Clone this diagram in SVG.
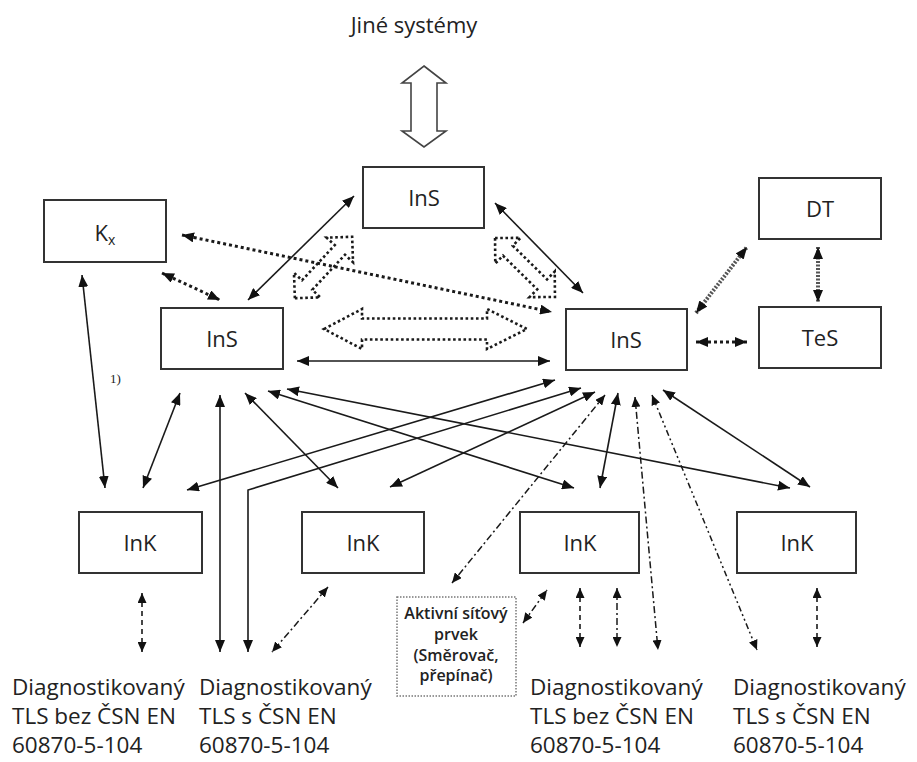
<svg xmlns="http://www.w3.org/2000/svg" width="917" height="762" viewBox="0 0 917 762">
  <defs>
    <marker id="ah" viewBox="0 0 12 10" refX="12" refY="5" markerWidth="12" markerHeight="10" markerUnits="userSpaceOnUse" orient="auto-start-reverse">
      <path d="M0,0 L12,5 L0,10 z" fill="#111"/>
    </marker>
    <marker id="ahs" viewBox="0 0 10 9" refX="10" refY="4.5" markerWidth="10" markerHeight="9" markerUnits="userSpaceOnUse" orient="auto-start-reverse">
      <path d="M0,0 L10,4.5 L0,9 z" fill="#111"/>
    </marker>
  </defs>
  <style>
    .box{fill:#fff;stroke:#333;stroke-width:2}
    .lbl{font-family:"Open Sans","Liberation Sans",sans-serif;font-size:22px;fill:#222;text-anchor:middle}
    .txt{font-family:"Open Sans","Liberation Sans",sans-serif;font-size:22.5px;fill:#222}
    .small{font-family:"Open Sans","Liberation Sans",sans-serif;font-size:16px;font-weight:600;fill:#222;text-anchor:middle}
    .ln{fill:none;stroke:#1a1a1a;stroke-width:1.6;marker-start:url(#ah);marker-end:url(#ah)}
    .dot{fill:none;stroke:#1a1a1a;stroke-width:3;stroke-dasharray:3 3;marker-start:url(#ah);marker-end:url(#ah)}
    .hatch{fill:none;stroke:#555;stroke-width:4;stroke-dasharray:2 1.5;marker-start:url(#ah);marker-end:url(#ah)}
    .dash{fill:none;stroke:#1a1a1a;stroke-width:1.6;stroke-dasharray:5 4;marker-start:url(#ahs);marker-end:url(#ahs)}
    .dd{fill:none;stroke:#1a1a1a;stroke-width:1.5;stroke-dasharray:7 3 2 3;marker-start:url(#ahs);marker-end:url(#ahs)}
    .ddd{fill:none;stroke:#1a1a1a;stroke-width:1.5;stroke-dasharray:6 3 2 3 2 3;marker-start:url(#ahs);marker-end:url(#ahs)}
    .block{fill:#fff;stroke:#1a1a1a;stroke-width:2.6;stroke-dasharray:2.6 2.6}
    .hollow{fill:#fff;stroke:#444;stroke-width:1.6}
  </style>

  <!-- connectors -->
  <g id="connectors">
    <!-- link to external systems -->
    <path class="hollow" d="M424,66 L446,83 L437,83 L437,131 L446,131 L424,147 L402,131 L411,131 L411,83 L402,83 Z"/>

    <!-- dotted block arrows between the InS servers -->
    <path class="block" transform="translate(323.5,267.5) rotate(-47)" d="M-42,0 L-24,-18 L-24,-7 L24,-7 L24,-18 L42,0 L24,18 L24,7 L-24,7 L-24,18 Z"/>
    <path class="block" transform="translate(525,267.5) rotate(44.5)" d="M-42,0 L-24,-18 L-24,-7 L24,-7 L24,-18 L42,0 L24,18 L24,7 L-24,7 L-24,18 Z"/>
    <path class="block" d="M324,329 L362,309 L362,318.5 L487,318.5 L487,309 L527,329 L487,349 L487,339.5 L362,339.5 L362,349 Z"/>

    <!-- solid links -->
    <line class="ln" x1="248" y1="300" x2="354" y2="196"/>
    <line class="ln" x1="495" y1="203" x2="583" y2="293"/>
    <line class="ln" x1="297" y1="361" x2="550" y2="361"/>
    <line class="ln" x1="82" y1="275" x2="105" y2="488"/>
    <line class="ln" x1="180" y1="393" x2="143" y2="488"/>
    <line class="ln" x1="187" y1="490" x2="555" y2="380"/>
    <polyline class="ln" points="248,652 248,490 581,388"/>
    <line class="ln" x1="390" y1="487" x2="595" y2="392"/>
    <line class="ln" x1="618" y1="393" x2="600" y2="488"/>
    <line class="ln" x1="663" y1="390" x2="810" y2="487"/>
    <line class="ln" x1="220" y1="395" x2="220" y2="652"/>
    <line class="ln" x1="245" y1="393" x2="338" y2="488"/>
    <line class="ln" x1="268" y1="391" x2="574" y2="488"/>
    <line class="ln" x1="287" y1="389" x2="790" y2="488"/>

    <!-- dotted links -->
    <line class="dot" x1="182" y1="235" x2="552" y2="312"/>
    <line class="dot" x1="162" y1="273" x2="220" y2="300"/>
    <line class="dot" x1="696" y1="342" x2="747" y2="342"/>
    <line class="hatch" x1="696" y1="313" x2="747" y2="247"/>
    <line class="hatch" x1="818" y1="247" x2="818" y2="302"/>

    <!-- dash-dot links -->
    <line class="dd" x1="605" y1="395" x2="452" y2="583"/>
    <line class="dd" x1="635" y1="397" x2="658" y2="650"/>
    <line class="ddd" x1="652" y1="395" x2="757" y2="650"/>
    <line class="dd" x1="328" y1="587" x2="272" y2="652"/>
    <line class="dd" x1="523" y1="623" x2="547" y2="590"/>
    <line class="dd" x1="617" y1="588" x2="617" y2="647"/>

    <!-- dashed links -->
    <line class="dash" x1="142" y1="593" x2="142" y2="652"/>
    <line class="dash" x1="580" y1="588" x2="580" y2="647"/>
    <line class="dash" x1="817" y1="588" x2="817" y2="647"/>
  </g>

  <text class="lbl" x="414" y="33">Jiné systémy</text>
  <text x="110" y="383" font-family="Liberation Serif, serif" font-size="13" fill="#222">1)</text>

  <g id="ins-top"><rect class="box" x="363" y="167" width="121" height="61"/><text class="lbl" x="424" y="206">InS</text></g>
  <g id="kx"><rect class="box" x="44" y="200" width="122" height="62"/><text class="lbl" x="105" y="241">K<tspan font-size="14" dy="4">x</tspan></text></g>
  <g id="ins-left"><rect class="box" x="161" y="308" width="122" height="61"/><text class="lbl" x="222" y="347">InS</text></g>
  <g id="ins-right"><rect class="box" x="566" y="309" width="121" height="61"/><text class="lbl" x="626" y="348">InS</text></g>
  <g id="dt"><rect class="box" x="759" y="178" width="122" height="61"/><text class="lbl" x="820" y="217">DT</text></g>
  <g id="tes"><rect class="box" x="759" y="307" width="122" height="61"/><text class="lbl" x="820" y="346">TeS</text></g>
  <g id="ink-1"><rect class="box" x="79" y="512" width="123" height="61"/><text class="lbl" x="140" y="551">InK</text></g>
  <g id="ink-2"><rect class="box" x="302" y="512" width="122" height="61"/><text class="lbl" x="363" y="551">InK</text></g>
  <g id="ink-3"><rect class="box" x="520" y="512" width="119" height="61"/><text class="lbl" x="580" y="551">InK</text></g>
  <g id="ink-4"><rect class="box" x="737" y="512" width="119" height="61"/><text class="lbl" x="797" y="551">InK</text></g>

  <g id="active-element">
    <rect x="397" y="597" width="119" height="99" fill="#fff" stroke="#777" stroke-width="1.5" stroke-dasharray="1.5 1.5"/>
    <text class="small" x="456" y="619">Aktivní síťový</text>
    <text class="small" x="456" y="640">prvek</text>
    <text class="small" x="456" y="661">(Směrovač,</text>
    <text class="small" x="456" y="681">přepínač)</text>
  </g>

  <g id="tls-1"><text class="txt" x="12" y="695">Diagnostikovaný</text><text class="txt" x="12" y="724">TLS bez ČSN EN</text><text class="txt" x="12" y="753">60870-5-104</text></g>
  <g id="tls-2"><text class="txt" x="199" y="695">Diagnostikovaný</text><text class="txt" x="199" y="724">TLS s ČSN EN</text><text class="txt" x="199" y="753">60870-5-104</text></g>
  <g id="tls-3"><text class="txt" x="530" y="695">Diagnostikovaný</text><text class="txt" x="530" y="724">TLS bez ČSN EN</text><text class="txt" x="530" y="753">60870-5-104</text></g>
  <g id="tls-4"><text class="txt" x="733" y="695">Diagnostikovaný</text><text class="txt" x="733" y="724">TLS s ČSN EN</text><text class="txt" x="733" y="753">60870-5-104</text></g>
</svg>
